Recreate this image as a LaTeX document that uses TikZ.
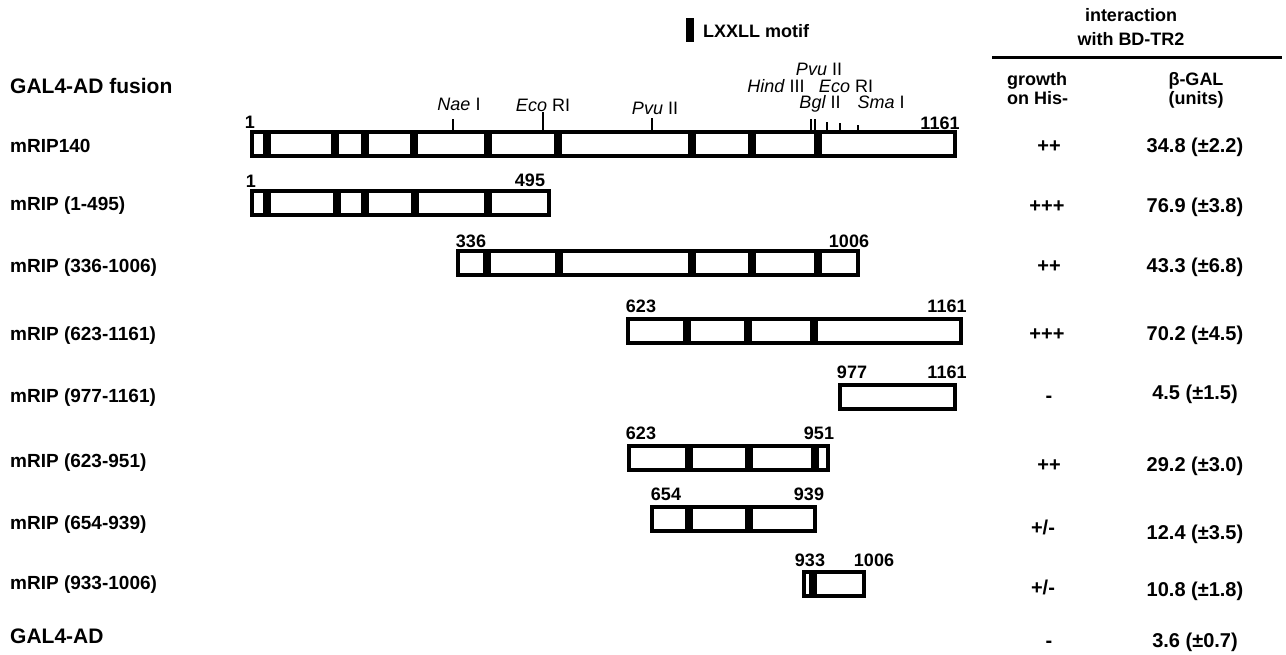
\documentclass[tikz,border=0pt]{standalone}
\usepackage{fontspec}
\setmainfont{Liberation Sans}
\tikzset{
  pbar/.style={draw, line width=4pt, rectangle, inner sep=0pt, outer sep=0pt, fill=white},
  lbl/.style={anchor=base west, inner sep=0pt, font=\fontsize{19}{22}\selectfont\bfseries},
  hdg/.style={anchor=base west, inner sep=0pt, font=\fontsize{21}{24}\selectfont\bfseries},
  num/.style={anchor=base, inner sep=0pt, font=\fontsize{18}{20}\selectfont\bfseries},
  site/.style={anchor=base, inner sep=0pt, text height=13pt, text depth=0pt, font=\fontsize{18}{20}\selectfont},
  colh/.style={anchor=base, inner sep=0pt, font=\fontsize{18}{20}\selectfont\bfseries},
  val/.style={anchor=base, inner sep=0pt, font=\fontsize{20}{22}\selectfont\bfseries},
  tick/.style={line width=1.3pt},
}
\newcommand\protbar[4]{% name, x-left, x-right, y-center
  \node[pbar, minimum width={#3-#2-4}, minimum height=24] (#1) at ({(#2+#3)/2},#4) {};}
\newcommand\motifs[2]{% y-center, list
  \foreach \m in {#2} {\fill ({\m-4},{#1-14}) rectangle ({\m+4},{#1+14});}}
\begin{document}
\begin{tikzpicture}[x=1pt,y=-1pt]
\useasboundingbox (0,0) rectangle (1286,654);

% legend
\fill (686,18) rectangle (694,42);
\node[colh, anchor=base west] (legend) at (703,37) {LXXLL motif};

% header
\node[colh] (h1) at (1131,21.5) {interaction};
\node[colh] (h2) at (1131,45.5) {with BD-TR2};
\draw[line width=3pt] (992,57) -- (1282,57);
\node[colh, anchor=base west] (g1) at (1007,85) {growth};
\node[colh, anchor=base west] (g2) at (1007,104) {on His-};
\node[colh] (b1) at (1196,85) {β-GAL};
\node[colh] (b2) at (1196,104) {(units)};

% left labels
\node[hdg] (lf) at (10,93.5) {GAL4-AD fusion};
\node[lbl] (l1) at (10,152) {mRIP140};
\node[lbl] (l2) at (10,210) {mRIP (1-495)};
\node[lbl] (l3) at (10,272) {mRIP (336-1006)};
\node[lbl] (l4) at (10,340) {mRIP (623-1161)};
\node[lbl] (l5) at (10,402) {mRIP (977-1161)};
\node[lbl] (l6) at (10,467) {mRIP (623-951)};
\node[lbl] (l7) at (10,529) {mRIP (654-939)};
\node[lbl] (l8) at (10,589) {mRIP (933-1006)};
\node[hdg] (l9) at (10,643.5) {GAL4-AD};

% bars
\protbar{r1}{250}{957}{144}
\motifs{144}{267,335,365,414,488,558,692,752,818}
\protbar{r2}{250}{551}{203}
\motifs{203}{267,337,365,415,488}
\protbar{r3}{456}{860}{263}
\motifs{263}{487,559,692,752,818}
\protbar{r4}{626}{963}{331}
\motifs{331}{687,748,814}
\protbar{r5}{838}{957}{397}
\protbar{r6}{627}{830}{458}
\motifs{458}{689,749,815}
\protbar{r7}{650}{817}{519}
\motifs{519}{689,749}
\protbar{r8}{802}{866}{584}
\motifs{584}{813}

% numbers
\node[num] (n1a) at (250,128.5) {1};
\node[num] (n1b) at (940,129) {1161};
\node[num] (n2a) at (251,187.5) {1};
\node[num] (n2b) at (530,186.5) {495};
\node[num] (n3a) at (471,247.5) {336};
\node[num] (n3b) at (849,247.5) {1006};
\node[num] (n4a) at (641,312.5) {623};
\node[num] (n4b) at (947,312.5) {1161};
\node[num] (n5a) at (852,378.5) {977};
\node[num] (n5b) at (947,378.5) {1161};
\node[num] (n6a) at (641,439.5) {623};
\node[num] (n6b) at (819,439.5) {951};
\node[num] (n7a) at (666,500.5) {654};
\node[num] (n7b) at (809,500.5) {939};
\node[num] (n8a) at (810,566.5) {933};
\node[num] (n8b) at (874,566.5) {1006};

% restriction sites
\draw[tick] (453,130) -- (453,119);
\draw[tick] (543,130) -- (543,112);
\draw[tick] (652,130) -- (652,118);
\draw[tick] (811,130) -- (811,119);
\draw[tick] (815,130) -- (815,119);
\draw[tick] (827,130) -- (827,122);
\draw[tick] (840,130) -- (840,123);
\draw[tick] (858,130) -- (858,125);
\node[site] (s1) at (459,110.5) {\itshape Nae\upshape\ I};
\node[site] (s2) at (543,111) {\itshape Eco\upshape\ RI};
\node[site] (s3) at (655,114) {\itshape Pvu\upshape\ II};
\node[site] (s4) at (819,75) {\itshape Pvu\upshape\ II};
\node[site] (s5) at (776,92.5) {\itshape Hind\upshape\ III};
\node[site] (s6) at (846,92.5) {\itshape Eco\upshape\ RI};
\node[site] (s7) at (820,108) {\itshape Bgl\upshape\ II};
\node[site] (s8) at (881,108) {\itshape Sma\upshape\ I};

% growth column
\node[val] (gr1) at (1049,152) {++};
\node[val] (gr2) at (1047,212) {+++};
\node[val] (gr3) at (1049,272) {++};
\node[val] (gr4) at (1047,340) {+++};
\node[val] (gr5) at (1049,402.5) {-};
\node[val] (gr6) at (1049,471) {++};
\node[val] (gr7) at (1043,534) {+/-};
\node[val] (gr8) at (1043,594) {+/-};
\node[val] (gr9) at (1049,647) {-};

% beta-gal column
\node[val] (v1) at (1195,152) {34.8 (±2.2)};
\node[val] (v2) at (1195,212) {76.9 (±3.8)};
\node[val] (v3) at (1195,272) {43.3 (±6.8)};
\node[val] (v4) at (1195,340) {70.2 (±4.5)};
\node[val] (v5) at (1195,399) {4.5 (±1.5)};
\node[val] (v6) at (1195,471) {29.2 (±3.0)};
\node[val] (v7) at (1195,539) {12.4 (±3.5)};
\node[val] (v8) at (1195,596) {10.8 (±1.8)};
\node[val] (v9) at (1195,647) {3.6 (±0.7)};
\end{tikzpicture}
\end{document}
